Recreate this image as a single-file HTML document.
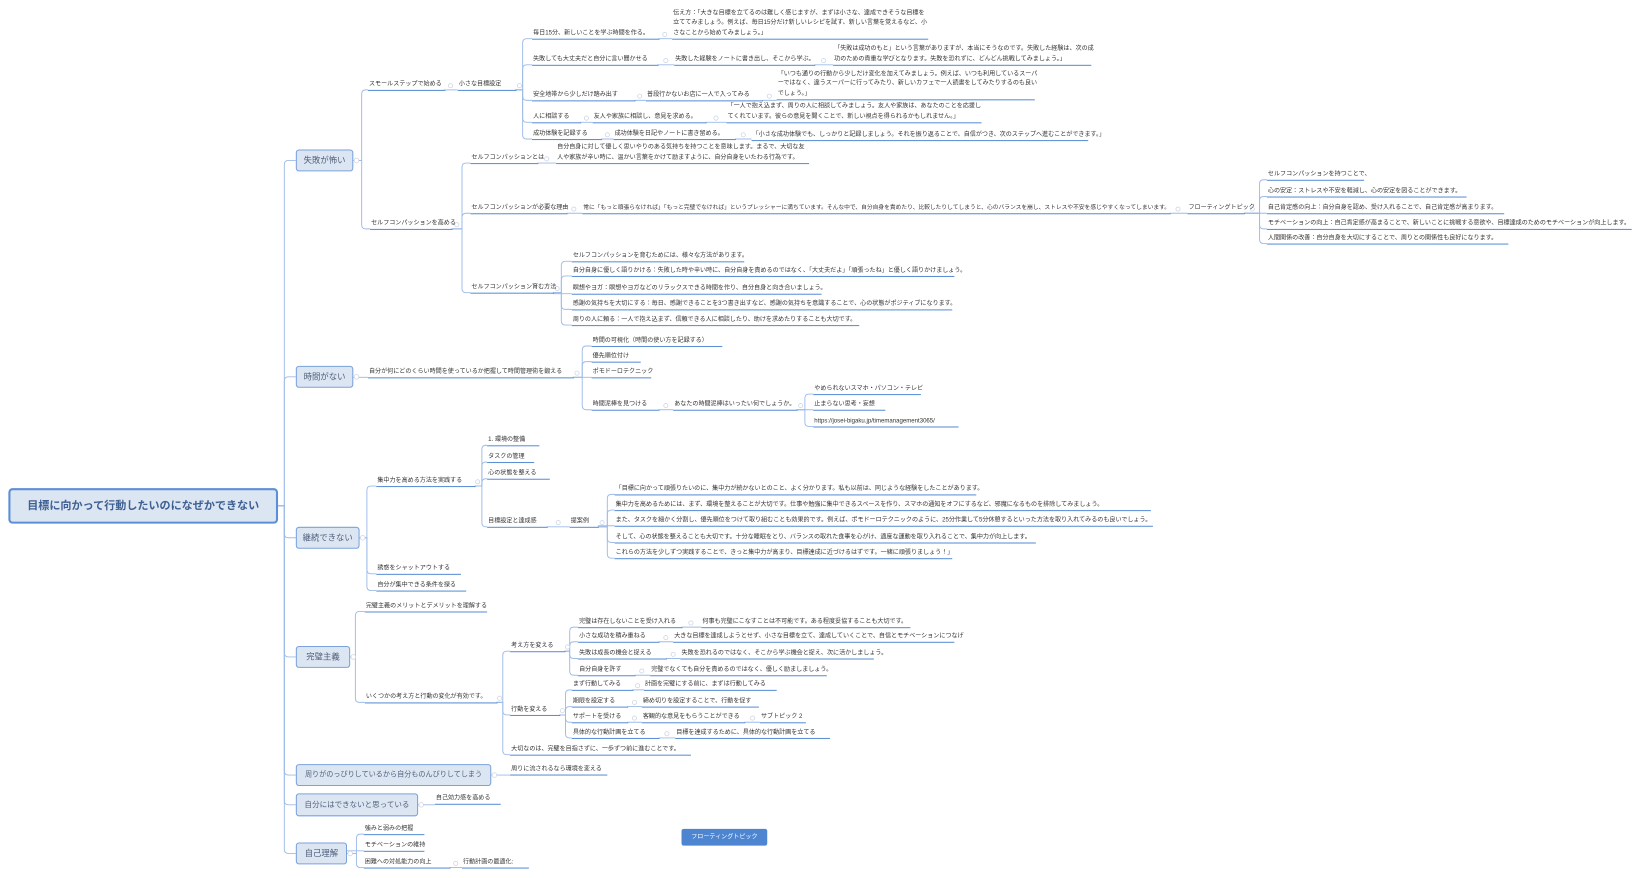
<!DOCTYPE html>
<html><head><meta charset="utf-8">
<style>
html,body{margin:0;padding:0;background:#fff;width:1639px;height:878px;overflow:hidden}
#m{position:absolute;left:0;top:0;width:1568px;height:840px;transform:scale(1.04528,1.04524);transform-origin:0 0;font-family:"Liberation Sans","Noto Sans CJK JP",sans-serif}
.n{position:absolute;font-size:5.8px;line-height:9px;height:9px;border-bottom:1.3px solid #5b8fd6;color:#333;white-space:nowrap;padding-left:1px}
.ml{position:absolute;font-size:5.8px;line-height:9.5px;border-bottom:1.3px solid #5b8fd6;color:#333;white-space:nowrap;padding-left:1px}
.b{position:absolute;left:283px;background:#dce6f2;border:1.3px solid #7aa2dc;border-radius:3px;color:#50607c;font-size:8px;text-align:center;white-space:nowrap;box-sizing:border-box;height:21px;line-height:19px}
svg{position:absolute;left:0;top:0}
</style></head><body>
<div id="m">
<svg width="1568" height="840" viewBox="0 0 1568 840">
<g fill="none" stroke="#9dbbe8" stroke-width="0.9">
<path d="M266 484H272V157.5Q272 153.5 276 153.5H283"/>
<path d="M266 484H272V364.5Q272 360.5 276 360.5H283"/>
<path d="M266 484H272V510.5Q272 514.5 276 514.5H283"/>
<path d="M266 484H272V624.5Q272 628.5 276 628.5H283"/>
<path d="M266 484H272V737.5Q272 741.5 276 741.5H283"/>
<path d="M266 484H272V766Q272 770 276 770H283"/>
<path d="M266 484H272V812.5Q272 816.5 276 816.5H283"/>
<path d="M338 153.5H346V90Q346 86 350 86H352"/>
<path d="M338 153.5H346V215Q346 219 350 219H354"/>
<path d="M425 86H438"/>
<path d="M493 86H500V41Q500 37 504 37H509"/>
<path d="M493 86H500V66Q500 62 504 62H509"/>
<path d="M493 86H500V92Q500 96 504 96H509"/>
<path d="M493 86H500V113Q500 117 504 117H509"/>
<path d="M493 86H500V129Q500 133 504 133H509"/>
<path d="M630 37H643M629 62H645M779 62H797M607 96H618M729 96H743M555 117H567M675 117H695M575 133H587M703 133H719"/>
<path d="M432 219H442V160Q442 156 446 156H450"/>
<path d="M432 219H442V208Q442 204 446 204H450"/>
<path d="M432 219H442V276Q442 280 446 280H450"/>
<path d="M514 156H532M542 204H557M1119 204H1136"/>
<path d="M1190 204H1205V176Q1205 172 1209 172H1212"/>
<path d="M1190 204H1205V192Q1205 188 1209 188H1212"/>
<path d="M1190 204H1212"/>
<path d="M1190 204H1205V215Q1205 219 1209 219H1212"/>
<path d="M1190 204H1205V229Q1205 233 1209 233H1212"/>
<path d="M529 280H537V254Q537 250 541 250H547"/>
<path d="M529 280H537V268Q537 264 541 264H547"/>
<path d="M529 281H547"/>
<path d="M529 280H537V292Q537 296 541 296H547"/>
<path d="M529 280H537V307Q537 311 541 311H547"/>
<path d="M338 361H352"/>
<path d="M548 361H557V335Q557 331 561 331H566"/>
<path d="M548 361H557V350Q557 346 561 346H566"/>
<path d="M548 361H566"/>
<path d="M548 361H557V388Q557 392 561 392H566"/>
<path d="M630 392H644"/>
<path d="M762 392H770V381Q770 377 774 377H778"/>
<path d="M762 392H778"/>
<path d="M762 392H770V404Q770 408 774 408H778"/>
<path d="M344 514.5H351V469Q351 465 355 465H360"/>
<path d="M344 514.5H351V545Q351 549 355 549H360"/>
<path d="M344 514.5H351V561Q351 565 355 565H360"/>
<path d="M454 465H461V430Q461 426 465 426H466"/>
<path d="M454 465H461V446Q461 442 465 442H466"/>
<path d="M454 465H461V462Q461 458 465 458H466"/>
<path d="M454 465H461V500Q461 504 465 504H466"/>
<path d="M523 504H545"/>
<path d="M572 504H581V477Q581 473 585 473H588"/>
<path d="M572 504H581V492Q581 488 585 488H588"/>
<path d="M572 503H588"/>
<path d="M572 504H581V515Q581 519 585 519H588"/>
<path d="M572 504H581V530Q581 534 585 534H588"/>
<path d="M335 628.5H340V589Q340 585 344 585H349"/>
<path d="M335 628.5H340V668Q340 672 344 672H349"/>
<path d="M475 672H481V627Q481 623 485 623H488"/>
<path d="M475 672H481V680Q481 684 485 684H488"/>
<path d="M475 672H481V718Q481 722 485 722H488"/>
<path d="M540 623H545V604Q545 600 549 600H553"/>
<path d="M540 623H545V618Q545 614 549 614H553"/>
<path d="M540 623H545V626Q545 630 549 630H553"/>
<path d="M540 623H545V642Q545 646 549 646H553"/>
<path d="M652 600H671M630 614H644M637 630H651M607 646H622"/>
<path d="M535 684H541V664Q541 660 545 660H547"/>
<path d="M535 684H541V680Q541 676 545 676H547"/>
<path d="M535 684H541V687Q541 691 545 691H547"/>
<path d="M535 684H541V702Q541 706 545 706H547"/>
<path d="M605 660H616M600 676H614M600 691H614M712 691H727M630 706H646"/>
<path d="M470 741.5H488M400 770H416"/>
<path d="M332 816.5H341V802Q341 798 345 798H348"/>
<path d="M332 814H348"/>
<path d="M332 816.5H341V826Q341 830 345 830H348"/>
<path d="M430 830H442"/>
</g>
<g fill="#fff" stroke="#c9d3e3" stroke-width="0.7">
<circle cx="341" cy="153.5" r="2.2"/><circle cx="341" cy="360.5" r="2.2"/><circle cx="347" cy="514.5" r="2.2"/><circle cx="338" cy="628.5" r="2.2"/><circle cx="473" cy="741.5" r="2.2"/><circle cx="403" cy="770" r="2.2"/><circle cx="335" cy="816.5" r="2.2"/>
<circle cx="431" cy="82" r="2"/><circle cx="497" cy="82" r="2"/><circle cx="636" cy="33" r="2"/><circle cx="637" cy="58" r="2"/><circle cx="788" cy="58" r="2"/><circle cx="612" cy="92" r="2"/><circle cx="736" cy="92" r="2"/><circle cx="561" cy="113" r="2"/><circle cx="685" cy="113" r="2"/><circle cx="581" cy="129" r="2"/><circle cx="711" cy="129" r="2"/>
<circle cx="437" cy="215" r="2"/><circle cx="523" cy="152" r="2"/><circle cx="549" cy="200" r="2"/><circle cx="1127" cy="200" r="2"/><circle cx="1198" cy="200" r="2"/><circle cx="533" cy="276" r="2"/>
<circle cx="552" cy="357" r="2"/><circle cx="637" cy="388" r="2"/><circle cx="766" cy="388" r="2"/>
<circle cx="457" cy="461" r="2"/><circle cx="534" cy="500" r="2"/><circle cx="576" cy="500" r="2"/>
<circle cx="478" cy="668" r="2"/><circle cx="543" cy="619" r="2"/><circle cx="538" cy="680" r="2"/><circle cx="661" cy="596" r="2"/><circle cx="637" cy="610" r="2"/><circle cx="644" cy="626" r="2"/><circle cx="614" cy="642" r="2"/><circle cx="610" cy="656" r="2"/><circle cx="607" cy="672" r="2"/><circle cx="607" cy="687" r="2"/><circle cx="720" cy="687" r="2"/><circle cx="638" cy="702" r="2"/><circle cx="436" cy="826" r="2"/>
</g>
</svg>

<div style="position:absolute;left:8px;top:467px;width:258px;height:34px;box-sizing:border-box;background:#dce6f2;border:2px solid #5b8fd6;border-radius:4px;color:#3d5f94;font-size:10.6px;font-weight:bold;line-height:30px;text-align:center;white-space:nowrap">目標に向かって行動したいのになぜかできない</div>

<div class="b" style="top:143px;width:55px">失敗が怖い</div>
<div class="b" style="top:350px;width:55px">時間がない</div>
<div class="b" style="top:504px;width:61px">継続できない</div>
<div class="b" style="top:618px;width:52px">完璧主義</div>
<div class="b" style="top:731px;width:187px;font-size:6.8px">周りがのっびりしているから自分ものんびりしてしまう</div>
<div class="b" style="top:759px;width:117px;height:22px;font-size:7.2px;line-height:20px">自分にはできないと思っている</div>
<div class="b" style="top:806px;width:49px">自己理解</div>

<div style="position:absolute;left:652px;top:793px;width:82px;height:16px;background:#4d85d1;border-radius:2px;color:#fff;font-size:5.8px;line-height:16px;text-align:center;white-space:nowrap">フローティングトピック</div>

<!-- A -->
<div class="n" style="left:352px;top:77px;width:73px">スモールステップで始める</div>
<div class="n" style="left:438px;top:77px;width:55px">小さな目標設定</div>
<div class="n" style="left:509px;top:28px;width:121px">毎日15分、新しいことを学ぶ時間を作る。</div>
<div class="ml" style="left:643px;top:8.5px;width:244px">伝え方：「大きな目標を立てるのは難しく感じますが、まずは小さな、達成できそうな目標を<br>立ててみましょう。例えば、毎日15分だけ新しいレシピを試す、新しい言葉を覚えるなど、小<br>さなことから始めてみましょう。」</div>
<div class="n" style="left:509px;top:53px;width:120px">失敗しても大丈夫だと自分に言い聞かせる</div>
<div class="n" style="left:645px;top:53px;width:134px">失敗した経験をノートに書き出し、そこから学ぶ。</div>
<div class="ml" style="left:797px;top:43px;width:246px">「失敗は成功のもと」という言葉がありますが、本当にそうなのです。失敗した経験は、次の成<br>功のための貴重な学びとなります。失敗を恐れずに、どんどん挑戦してみましょう。」</div>
<div class="n" style="left:509px;top:87px;width:98px">安全地帯から少しだけ踏み出す</div>
<div class="n" style="left:618px;top:87px;width:111px">普段行かないお店に一人で入ってみる</div>
<div class="ml" style="left:743px;top:66.5px;width:246px">「いつも通りの行動から少しだけ変化を加えてみましょう。例えば、いつも利用しているスーパ<br>ーではなく、違うスーパーに行ってみたり、新しいカフェで一人読書をしてみたりするのも良い<br>でしょう。」</div>
<div class="n" style="left:509px;top:108px;width:46px">人に相談する</div>
<div class="n" style="left:567px;top:108px;width:108px">友人や家族に相談し、意見を求める。</div>
<div class="ml" style="left:695px;top:98px;width:243px">「一人で抱え込まず、周りの人に相談してみましょう。友人や家族は、あなたのことを応援し<br>てくれています。彼らの意見を聞くことで、新しい視点を得られるかもしれません。」</div>
<div class="n" style="left:509px;top:124px;width:66px">成功体験を記録する</div>
<div class="n" style="left:587px;top:124px;width:116px">成功体験を日記やノートに書き留める。</div>
<div class="n" style="left:719px;top:125px;width:321px">「小さな成功体験でも、しっかりと記録しましょう。それを振り返ることで、自信がつき、次のステップへ進むことができます。」</div>

<div class="n" style="left:354px;top:210px;width:78px">セルフコンパッションを高める</div>
<div class="n" style="left:450px;top:147px;width:64px">セルフコンパッションとは</div>
<div class="ml" style="left:532px;top:137px;width:241px">自分自身に対して優しく思いやりのある気持ちを持つことを意味します。まるで、大切な友<br>人や家族が辛い時に、温かい言葉をかけて励ますように、自分自身をいたわる行為です。</div>
<div class="n" style="left:450px;top:195px;width:92px">セルフコンパッションが必要な理由</div>
<div class="n" style="left:557px;top:195px;width:562px;font-size:5.5px">常に「もっと頑張らなければ」「もっと完璧でなければ」というプレッシャーに満ちています。そんな中で、自分自身を責めたり、比較したりしてしまうと、心のバランスを崩し、ストレスや不安を感じやすくなってしまいます。</div>
<div class="n" style="left:1136px;top:195px;width:54px">フローティングトピック</div>
<div class="n" style="left:1212px;top:163px;width:92px">セルフコンパッションを持つことで、</div>
<div class="n" style="left:1212px;top:179px;width:190px">心の安定：ストレスや不安を軽減し、心の安定を図ることができます。</div>
<div class="n" style="left:1212px;top:195px;width:226px">自己肯定感の向上：自分自身を認め、受け入れることで、自己肯定感が高まります。</div>
<div class="n" style="left:1212px;top:210px;width:348px">モチベーションの向上：自己肯定感が高まることで、新しいことに挑戦する意欲や、目標達成のためのモチベーションが向上します。</div>
<div class="n" style="left:1212px;top:224px;width:230px">人間関係の改善：自分自身を大切にすることで、周りとの関係性も良好になります。</div>
<div class="n" style="left:450px;top:271px;width:79px">セルフコンパッション育む方法</div>
<div class="n" style="left:547px;top:241px;width:164px">セルフコンパッションを育むためには、様々な方法があります。</div>
<div class="n" style="left:547px;top:255px;width:365px">自分自身に優しく語りかける：失敗した時や辛い時に、自分自身を責めるのではなく、「大丈夫だよ」「頑張ったね」と優しく語りかけましょう。</div>
<div class="n" style="left:547px;top:272px;width:238px">瞑想やヨガ：瞑想やヨガなどのリラックスできる時間を作り、自分自身と向き合いましょう。</div>
<div class="n" style="left:547px;top:287px;width:363px">感謝の気持ちを大切にする：毎日、感謝できることを3つ書き出すなど、感謝の気持ちを意識することで、心の状態がポジティブになります。</div>
<div class="n" style="left:547px;top:302px;width:274px">周りの人に頼る：一人で抱え込まず、信頼できる人に相談したり、助けを求めたりすることも大切です。</div>

<!-- B -->
<div class="n" style="left:352px;top:352px;width:196px">自分が何にどのくらい時間を使っているか把握して時間管理術を鍛える</div>
<div class="n" style="left:566px;top:322px;width:124px">時間の可視化（時間の使い方を記録する）</div>
<div class="n" style="left:566px;top:337px;width:46px">優先順位付け</div>
<div class="n" style="left:566px;top:352px;width:56px">ポモドーロテクニック</div>
<div class="n" style="left:566px;top:383px;width:64px">時間泥棒を見つける</div>
<div class="n" style="left:644px;top:383px;width:118px">あなたの時間泥棒はいったい何でしょうか。</div>
<div class="n" style="left:778px;top:368px;width:102px">やめられないスマホ・パソコン・テレビ</div>
<div class="n" style="left:778px;top:383px;width:68px">止まらない思考・妄想</div>
<div class="n" style="left:778px;top:399px;width:138px">https://josei-bigaku.jp/timemanagement3065/</div>

<!-- C -->
<div class="n" style="left:360px;top:456px;width:94px">集中力を高める方法を実践する</div>
<div class="n" style="left:360px;top:540px;width:80px">誘惑をシャットアウトする</div>
<div class="n" style="left:360px;top:556px;width:85px">自分が集中できる条件を探る</div>
<div class="n" style="left:466px;top:417px;width:49px">1. 環境の整備</div>
<div class="n" style="left:466px;top:433px;width:44px">タスクの管理</div>
<div class="n" style="left:466px;top:449px;width:59px">心の状態を整える</div>
<div class="n" style="left:466px;top:495px;width:57px">目標設定と達成感</div>
<div class="n" style="left:545px;top:495px;width:27px">提案例</div>
<div class="n" style="left:588px;top:464px;width:345px">「目標に向かって頑張りたいのに、集中力が続かないとのこと、よく分かります。私も以前は、同じような経験をしたことがあります。</div>
<div class="n" style="left:588px;top:479px;width:512px">集中力を高めるためには、まず、環境を整えることが大切です。仕事や勉強に集中できるスペースを作り、スマホの通知をオフにするなど、邪魔になるものを排除してみましょう。</div>
<div class="n" style="left:588px;top:494px;width:514px">また、タスクを細かく分割し、優先順位をつけて取り組むことも効果的です。例えば、ポモドーロテクニックのように、25分作業して5分休憩するといった方法を取り入れてみるのも良いでしょう。</div>
<div class="n" style="left:588px;top:510px;width:402px">そして、心の状態を整えることも大切です。十分な睡眠をとり、バランスの取れた食事を心がけ、適度な運動を取り入れることで、集中力が向上します。</div>
<div class="n" style="left:588px;top:525px;width:322px">これらの方法を少しずつ実践することで、きっと集中力が高まり、目標達成に近づけるはずです。一緒に頑張りましょう！」</div>

<!-- D -->
<div class="n" style="left:349px;top:576px;width:116px">完璧主義のメリットとデメリットを理解する</div>
<div class="n" style="left:349px;top:663px;width:126px">いくつかの考え方と行動の変化が有効です。</div>
<div class="n" style="left:488px;top:614px;width:52px">考え方を変える</div>
<div class="n" style="left:488px;top:675px;width:47px">行動を変える</div>
<div class="n" style="left:488px;top:713px;width:172px">大切なのは、完璧を目指さずに、一歩ずつ前に進むことです。</div>
<div class="n" style="left:553px;top:591px;width:99px">完璧は存在しないことを受け入れる</div>
<div class="n" style="left:671px;top:591px;width:199px">何事も完璧にこなすことは不可能です。ある程度妥協することも大切です。</div>
<div class="n" style="left:553px;top:605px;width:77px">小さな成功を積み重ねる</div>
<div class="n" style="left:644px;top:605px;width:268px">大きな目標を達成しようとせず、小さな目標を立て、達成していくことで、自信とモチベーションにつなげ</div>
<div class="n" style="left:553px;top:621px;width:84px">失敗は成長の機会と捉える</div>
<div class="n" style="left:651px;top:621px;width:184px">失敗を恐れるのではなく、そこから学ぶ機会と捉え、次に活かしましょう。</div>
<div class="n" style="left:553px;top:637px;width:54px">自分自身を許す</div>
<div class="n" style="left:622px;top:637px;width:168px">完璧でなくても自分を責めるのではなく、優しく励ましましょう。</div>
<div class="n" style="left:547px;top:651px;width:58px">まず行動してみる</div>
<div class="n" style="left:616px;top:651px;width:126px">計画を完璧にする前に、まずは行動してみる</div>
<div class="n" style="left:547px;top:667px;width:53px">期限を設定する</div>
<div class="n" style="left:614px;top:667px;width:111px">締め切りを設定することで、行動を促す</div>
<div class="n" style="left:547px;top:682px;width:53px">サポートを受ける</div>
<div class="n" style="left:614px;top:682px;width:98px">客観的な意見をもらうことができる</div>
<div class="n" style="left:727px;top:682px;width:43px">サブトピック 2</div>
<div class="n" style="left:547px;top:697px;width:83px">具体的な行動計画を立てる</div>
<div class="n" style="left:646px;top:697px;width:147px">目標を達成するために、具体的な行動計画を立てる</div>

<!-- E F G -->
<div class="n" style="left:488px;top:732px;width:92px">周りに流されるなら環境を変える</div>
<div class="n" style="left:416px;top:760px;width:62px">自己効力感を高める</div>
<div class="n" style="left:348px;top:789px;width:57px">強みと弱みの把握</div>
<div class="n" style="left:348px;top:805px;width:57px">モチベーションの維持</div>
<div class="n" style="left:348px;top:821px;width:82px">困難への対処能力の向上</div>
<div class="n" style="left:442px;top:821px;width:63px">行動計画の最適化:</div>
</div>
</body></html>
